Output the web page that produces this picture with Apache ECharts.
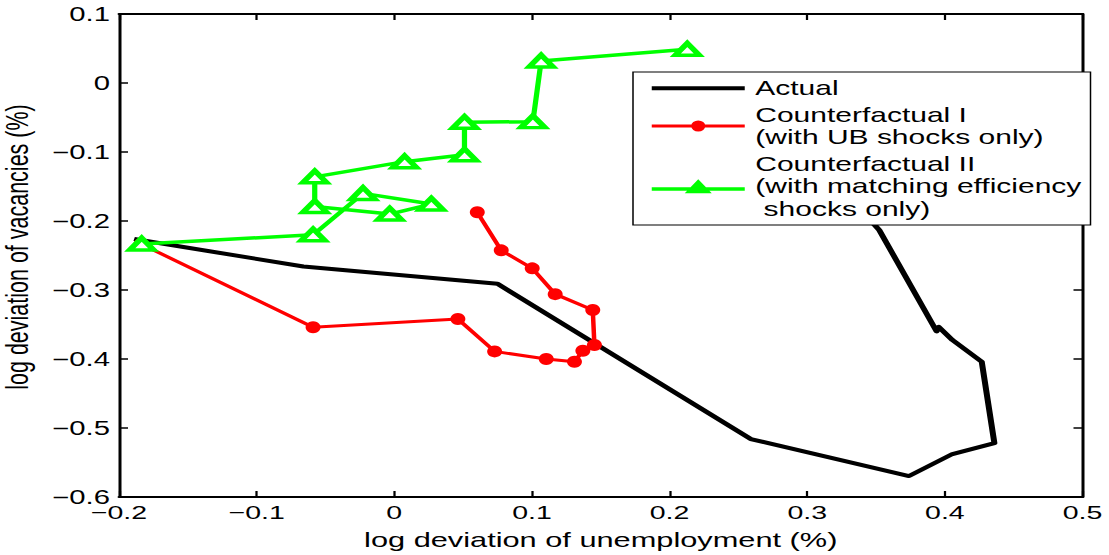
<!DOCTYPE html>
<html>
<head>
<meta charset="utf-8">
<script src="https://cdn.jsdelivr.net/npm/echarts@6/dist/echarts.min.js"></script>
<style>
  html, body { margin: 0; padding: 0; background: #fff; overflow: hidden; }
  #wrap { width: 1109px; height: 555px; overflow: hidden; }
  /* the figure is drawn at a narrower width and stretched sideways */
  #chart { width: 739.33px; height: 555px; transform: scaleX(1.5); transform-origin: 0 0; }
</style>
</head>
<body>
<div id="wrap"><div id="chart"></div></div>
<script>
// Tick labels
const xTickLabels = ['\u22120.2', '\u22120.1', '0', '0.1', '0.2', '0.3', '0.4', '0.5'];
const yTickLabels = ['\u22120.6', '\u22120.5', '\u22120.4', '\u22120.3', '\u22120.2', '\u22120.1', '0', '0.1'];

// Actual path (log deviations, %)
const actualU = [-0.189, -0.066, 0.075, 0.259, 0.374, 0.4055, 0.436, 0.4268, 0.4055, 0.3955, 0.394, 0.3523, 0.335];
const actualV = [-0.226, -0.266, -0.291, -0.516, -0.5696, -0.5377, -0.522, -0.404, -0.3725, -0.3535, -0.360, -0.213, -0.175];

// Counterfactual I: UB shocks only
const cf1U = [-0.184, -0.059, 0.0462, 0.0729, 0.1104, 0.1309, 0.137, 0.1454, 0.1442, 0.1169, 0.1002, 0.0777, 0.0603];
const cf1V = [-0.2333, -0.354, -0.342, -0.389, -0.400, -0.404, -0.388, -0.3797, -0.329, -0.306, -0.2686, -0.2425, -0.1874];

// Counterfactual II: matching efficiency shocks only
const cf2U = [-0.1835, -0.059, -0.0227, 0.0269, -0.0033, -0.0578, -0.0578, 0.0075, 0.051, 0.051, 0.1007, 0.1067, 0.2129];
const cf2V = [-0.2333, -0.220, -0.160, -0.1754, -0.190, -0.179, -0.136, -0.114, -0.104, -0.057, -0.056, 0.032, 0.049];

const names = [
  'Actual',
  'Counterfactual I\n(with UB shocks only)',
  'Counterfactual II\n(with matching efficiency\n shocks only)'
];
const colors = ['#000000', '#ff0000', '#00ff00'];

const zip = (u, v) => u.map((x, i) => [x, v[i]]);

const FONT = 'Liberation Sans, Arial, Helvetica, sans-serif';
const S = 1.5;   // horizontal stretch applied by CSS

// legend keys: line sample with the series marker
const legendIcons = [
  'path://M0,0 L62,0 L62,4 L0,4 Z',
  'path://M0,5.5 L62,5.5 L62,8.5 L0,8.5 Z M26.3,7 A4.7,5.5 0 1 1 35.7,7 A4.7,5.5 0 1 1 26.3,7 Z',
  'path://M0,8 L62,8 L62,11.5 L0,11.5 Z M31,0 L40,14 L22,14 Z'
];

const chart = echarts.init(document.getElementById('chart'), null, { renderer: 'svg' });

const axisLine = { show: true, onZero: false, lineStyle: { color: '#000', width: 2 } };
const tickIn = { show: true, inside: true, length: 6, lineStyle: { color: '#000', width: 1.5 } };

chart.setOption({
  animation: false,
  backgroundColor: '#fff',
  grid: { left: 119 / S, right: 26 / S, top: 14, bottom: 58, containLabel: false, outerBoundsMode: 'none' },
  legend: {
    orient: 'vertical',
    left: 633 / S,
    top: 72,
    padding: [5, 6, 5, 12.5],
    itemGap: 4,
    itemWidth: 62,
    itemHeight: 14,
    symbolKeepAspect: true,
    backgroundColor: '#fff',
    borderColor: '#000',
    borderWidth: 1,
    borderRadius: 0,
    textStyle: { fontFamily: FONT, fontSize: 20, color: '#000', lineHeight: 22.5, padding: [0, 0, 0, 2] },
    data: names.map((n, i) => ({
      name: n,
      icon: legendIcons[i],
      itemStyle: { color: colors[i], borderWidth: 0 }
    }))
  },
  xAxis: [
    {
      type: 'value', min: -0.2, max: 0.5, interval: 0.1, position: 'bottom',
      name: 'log deviation of unemployment (%)', nameLocation: 'middle', nameGap: 32,
      nameTextStyle: { fontFamily: FONT, fontSize: 20.5, color: '#000' },
      axisLine: axisLine, axisTick: tickIn, splitLine: { show: false },
      axisLabel: {
        show: true, margin: 6, fontFamily: FONT, fontSize: 19, color: '#000',
        showMinLabel: true, showMaxLabel: true,
        formatter: (v, i) => xTickLabels[i]
      }
    },
    {
      type: 'value', min: -0.2, max: 0.5, interval: 0.1, position: 'top',
      axisLine: axisLine, axisTick: tickIn, axisLabel: { show: false }, splitLine: { show: false }
    }
  ],
  yAxis: [
    {
      type: 'value', min: -0.6, max: 0.1, interval: 0.1, position: 'left',
      name: 'log deviation of vacancies (%)', nameLocation: 'middle', nameGap: 57,
      nameTextStyle: { fontFamily: FONT, fontSize: 21.5, color: '#000', padding: [0, 0, 0, 17] },
      axisLine: axisLine, axisTick: tickIn, splitLine: { show: false },
      axisLabel: {
        show: true, margin: 6, fontFamily: FONT, fontSize: 19.5, color: '#000',
        showMinLabel: true, showMaxLabel: true,
        formatter: (v, i) => yTickLabels[i]
      }
    },
    {
      type: 'value', min: -0.6, max: 0.1, interval: 0.1, position: 'right',
      axisLine: axisLine, axisTick: tickIn, axisLabel: { show: false }, splitLine: { show: false }
    }
  ],
  series: [
    {
      name: names[0], type: 'line', xAxisIndex: 0, yAxisIndex: 0,
      data: zip(actualU, actualV),
      symbol: 'none', showSymbol: false,
      lineStyle: { color: colors[0], width: 4, join: 'round' },
      itemStyle: { color: colors[0] },
      z: 2
    },
    {
      name: names[1], type: 'line', xAxisIndex: 0, yAxisIndex: 0,
      data: zip(cf1U, cf1V),
      symbol: 'circle', symbolSize: [10, 12], showSymbol: true,
      lineStyle: { color: colors[1], width: 3 },
      itemStyle: { color: colors[1] },
      z: 3
    },
    {
      name: names[2], type: 'line', xAxisIndex: 0, yAxisIndex: 0,
      data: zip(cf2U, cf2V),
      symbol: 'triangle', symbolSize: [16, 12], showSymbol: true,
      lineStyle: { color: colors[2], width: 3.5 },
      itemStyle: { color: '#ffffff', borderColor: colors[2], borderWidth: 4 },
      z: 4
    }
  ]
});
</script>
</body>
</html>
